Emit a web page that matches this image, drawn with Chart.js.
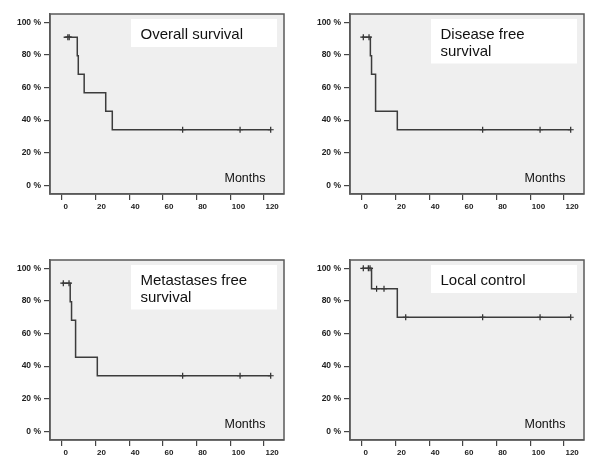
<!DOCTYPE html>
<html>
<head>
<meta charset="utf-8">
<script src="https://cdn.jsdelivr.net/npm/chart.js@4.4.1/dist/chart.umd.min.js"></script>
<style>
  html, body { margin: 0; padding: 0; background: #fff; }
  .panel { position: absolute; width: 300px; height: 235px; }
</style>
</head>
<body>
<div class="panel" style="left:0;top:0"><canvas id="c1" width="300" height="235"></canvas></div>
<div class="panel" style="left:300px;top:0"><canvas id="c2" width="300" height="235"></canvas></div>
<div class="panel" style="left:0;top:236px"><canvas id="c3" width="300" height="235"></canvas></div>
<div class="panel" style="left:300px;top:236px"><canvas id="c4" width="300" height="235"></canvas></div>
<script>
// Tick labels
const xTicks = [0, 20, 40, 60, 80, 100, 120];
const yTicks = [0, 20, 40, 60, 80, 100];
const xLabel = 'Months';

// Overall survival
const osTitle = ['Overall survival'];
const osTime = [1, 9.1, 9.7, 13.2, 26, 29.9, 124];
const osSurv = [90.9, 79.5, 68.2, 56.8, 45.5, 34.1, 34.1];
const osCensTime = [3.5, 4.3, 71.7, 105.8, 124];
const osCensSurv = [90.9, 90.9, 34.1, 34.1, 34.1];

// Disease free survival
const dfsTitle = ['Disease free', 'survival'];
const dfsTime = [0, 5.0, 5.7, 8.1, 21, 124];
const dfsSurv = [90.9, 79.5, 68.2, 45.5, 34.1, 34.1];
const dfsCensTime = [0.8, 4.2, 71.7, 105.8, 124];
const dfsCensSurv = [90.9, 90.9, 34.1, 34.1, 34.1];

// Metastases free survival
const mfsTitle = ['Metastases free', 'survival'];
const mfsTime = [0, 4.9, 5.7, 8.1, 21, 124];
const mfsSurv = [90.9, 79.5, 68.2, 45.5, 34.1, 34.1];
const mfsCensTime = [0.8, 4.2, 71.7, 105.8, 124];
const mfsCensSurv = [90.9, 90.9, 34.1, 34.1, 34.1];

// Local control
const lcTitle = ['Local control'];
const lcTime = [0, 5.7, 21, 124];
const lcSurv = [100, 87.5, 70, 70];
const lcCensTime = [0.8, 3.8, 4.8, 8.7, 13.1, 26, 71.7, 105.8, 124];
const lcCensSurv = [100, 100, 100, 87.5, 87.5, 70, 70, 70, 70];

const FONT = "'Liberation Sans', Arial, Helvetica, sans-serif";

const panelPlugin = {
  id: 'panelDeco',
  beforeDraw(chart) {
    const {ctx, chartArea: a} = chart;
    ctx.save();
    ctx.fillStyle = '#efefef';
    ctx.fillRect(a.left, a.top, a.right - a.left, a.bottom - a.top);
    ctx.restore();
  },
  afterDatasetsDraw(chart) {
    const {ctx, chartArea: a} = chart;
    const o = chart.options.plugins.panelDeco;
    ctx.save();
    // title box
    const bx = a.left + 81, by = a.top + 5;
    const bw = 146, bh = o.lines.length > 1 ? 44.5 : 28;
    ctx.fillStyle = '#ffffff';
    ctx.fillRect(bx, by, bw, bh);
    ctx.fillStyle = '#111';
    ctx.font = '15px ' + FONT;
    ctx.textBaseline = 'alphabetic';
    ctx.textAlign = 'left';
    o.lines.forEach((t, i) => ctx.fillText(t, bx + 9.5, by + 20.3 + i * 16.5));
    // months label
    ctx.font = '12.5px ' + FONT;
    ctx.textAlign = 'right';
    ctx.fillText(xLabel, a.right - 18.5, a.bottom - 12.5);
    ctx.restore();
  },
  afterDraw(chart) {
    const {ctx, chartArea: a} = chart;
    ctx.save();
    ctx.strokeStyle = '#5a5a5a';
    ctx.lineWidth = 1.5;
    ctx.strokeRect(a.left, a.top, a.right - a.left, a.bottom - a.top);
    ctx.restore();
  }
};

function makeChart(id, t, s, ct, cs, lines, topPad, xAxisH) {
  const curve = t.map((x, i) => ({x: x, y: s[i]}));
  const cens = ct.map((x, i) => ({x: x, y: cs[i]}));
  return new Chart(document.getElementById(id), {
    type: 'line',
    data: {
      datasets: [
        {
          data: curve, stepped: 'before', borderColor: '#3c3c3c', borderWidth: 1.5,
          pointRadius: 0, fill: false, tension: 0
        },
        {
          type: 'scatter', data: cens, pointStyle: 'cross', pointRadius: 3,
          borderColor: '#2a2a2a', borderWidth: 1.2, backgroundColor: '#2a2a2a', showLine: false
        }
      ]
    },
    options: {
      responsive: false,
      animation: false,
      devicePixelRatio: 1,
      layout: { padding: { top: topPad, right: 16, left: 0, bottom: 0 } },
      plugins: {
        legend: { display: false },
        tooltip: { enabled: false },
        panelDeco: { lines: lines }
      },
      scales: {
        x: {
          type: 'linear', min: -7.1, max: 131.9,
          afterBuildTicks: sc => { sc.ticks = xTicks.map(v => ({value: v})); },
          afterFit: sc => { sc.height = xAxisH; },
          ticks: { color: '#222', font: { family: FONT, size: 8, weight: 'bold' }, padding: 2, maxRotation: 0,
                   align: 'start', labelOffset: 1.5, callback: v => String(v) },
          grid: { display: true, drawOnChartArea: false, drawTicks: true, tickLength: 6, color: '#444', lineWidth: 1.2 },
          border: { display: true, color: '#5a5a5a', width: 1.5 }
        },
        y: {
          type: 'linear', min: -5.3, max: 105.1,
          afterBuildTicks: sc => { sc.ticks = yTicks.map(v => ({value: v})); },
          afterFit: sc => { sc.width = 50; },
          ticks: { color: '#222', font: { family: FONT, size: 8.5, weight: 'bold' }, padding: 3,
                   callback: v => v + ' %' },
          grid: { display: true, drawOnChartArea: false, drawTicks: true, tickLength: 6, color: '#444', lineWidth: 1.2 },
          border: { display: true, color: '#5a5a5a', width: 1.5 }
        }
      }
    },
    plugins: [panelPlugin]
  });
}

makeChart('c1', osTime, osSurv, osCensTime, osCensSurv, osTitle, 14, 41);
makeChart('c2', dfsTime, dfsSurv, dfsCensTime, dfsCensSurv, dfsTitle, 14, 41);
makeChart('c3', mfsTime, mfsSurv, mfsCensTime, mfsCensSurv, mfsTitle, 24, 31);
makeChart('c4', lcTime, lcSurv, lcCensTime, lcCensSurv, lcTitle, 24, 31);
</script>
</body>
</html>
